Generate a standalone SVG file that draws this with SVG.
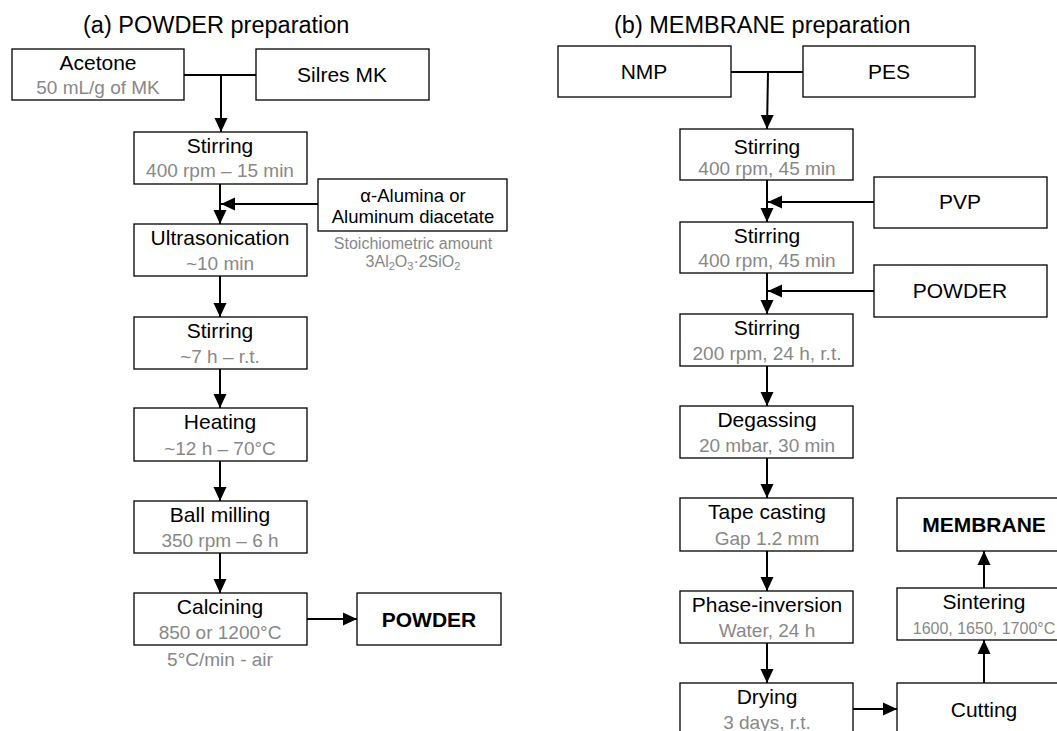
<svg xmlns="http://www.w3.org/2000/svg" width="1057" height="731" viewBox="0 0 1057 731">
<style>
.box{fill:#fff;stroke:#000;stroke-width:1.3}
.t{font-family:"Liberation Sans",Arial,sans-serif;font-size:21px;fill:#000;text-anchor:middle}
.b{font-weight:bold}
.m{font-size:18.5px}
.g{font-family:"Liberation Sans",Arial,sans-serif;font-size:19px;fill:#888;text-anchor:middle}
.s{font-size:16px}
.title{font-family:"Liberation Sans",Arial,sans-serif;font-size:23.5px;fill:#000}
.c{fill:none;stroke:#000;stroke-width:2}
</style>
<defs>
<marker id="ah" markerUnits="userSpaceOnUse" markerWidth="14" markerHeight="14" viewBox="0 0 14 14" refX="14" refY="7" orient="auto">
<path d="M0,0.5 L14,7 L0,13.5 Z" fill="#000"/>
</marker>
</defs>
<rect width="1057" height="731" fill="#fff"/>
<text class="title" x="83" y="33">(a) POWDER preparation</text>
<text class="title" x="614" y="33">(b) MEMBRANE preparation</text>

<g id="connectors">
<path class="c" d="M184,75 H256"/>
<path class="c" d="M221,75 V132" marker-end="url(#ah)"/>
<path class="c" d="M220,184 V224" marker-end="url(#ah)"/>
<path class="c" d="M318,204 H221" marker-end="url(#ah)"/>
<path class="c" d="M220,276 V317" marker-end="url(#ah)"/>
<path class="c" d="M220,369 V408" marker-end="url(#ah)"/>
<path class="c" d="M220,461 V501" marker-end="url(#ah)"/>
<path class="c" d="M220,553 V593" marker-end="url(#ah)"/>
<path class="c" d="M307,619 H357" marker-end="url(#ah)"/>
<path class="c" d="M731,72 H803"/>
<path class="c" d="M768,72 L767,129" marker-end="url(#ah)"/>
<path class="c" d="M767,180 V222" marker-end="url(#ah)"/>
<path class="c" d="M874,202 H768" marker-end="url(#ah)"/>
<path class="c" d="M767,273 V314" marker-end="url(#ah)"/>
<path class="c" d="M874,291 H768" marker-end="url(#ah)"/>
<path class="c" d="M767,366 V406" marker-end="url(#ah)"/>
<path class="c" d="M767,458 V498" marker-end="url(#ah)"/>
<path class="c" d="M767,551 V591" marker-end="url(#ah)"/>
<path class="c" d="M767,643 V683" marker-end="url(#ah)"/>
<path class="c" d="M853,709 H897" marker-end="url(#ah)"/>
<path class="c" d="M984,683 V640" marker-end="url(#ah)"/>
<path class="c" d="M984,588 V551" marker-end="url(#ah)"/>
</g>

<g id="acetone"><rect class="box" x="12" y="49" width="172" height="51"/><text class="t" x="98" y="70">Acetone</text><text class="g" x="98" y="94">50 mL/g of MK</text></g>
<g id="silres"><rect class="box" x="256" y="49" width="173" height="51"/><text class="t" x="342" y="82">Silres MK</text></g>
<g id="stirring-a1"><rect class="box" x="134" y="132" width="173" height="52"/><text class="t" x="220" y="153">Stirring</text><text class="g" x="220" y="177">400 rpm – 15 min</text></g>
<g id="alumina"><rect class="box" x="318" y="179" width="189" height="52"/><text class="t m" x="413" y="202">α-Alumina or</text><text class="t m" x="413" y="223">Aluminum diacetate</text><text class="g s" x="413" y="249">Stoichiometric amount</text><text class="g s" x="413" y="267">3Al<tspan font-size="11" dy="3">2</tspan><tspan dy="-3">O</tspan><tspan font-size="11" dy="3">3</tspan><tspan dy="-3">·2SiO</tspan><tspan font-size="11" dy="3">2</tspan></text></g>
<g id="ultrasonication"><rect class="box" x="134" y="224" width="173" height="52"/><text class="t" x="220" y="245">Ultrasonication</text><text class="g" x="220" y="270">~10 min</text></g>
<g id="stirring-a2"><rect class="box" x="134" y="317" width="173" height="52"/><text class="t" x="220" y="338">Stirring</text><text class="g" x="220" y="363">~7 h – r.t.</text></g>
<g id="heating"><rect class="box" x="134" y="408" width="173" height="53"/><text class="t" x="220" y="429">Heating</text><text class="g" x="220" y="455">~12 h – 70°C</text></g>
<g id="ballmilling"><rect class="box" x="134" y="501" width="173" height="52"/><text class="t" x="220" y="522">Ball milling</text><text class="g" x="220" y="547">350 rpm – 6 h</text></g>
<g id="calcining"><rect class="box" x="134" y="593" width="173" height="52"/><text class="t" x="220" y="614">Calcining</text><text class="g" x="220" y="639">850 or 1200°C</text><text class="g" x="220" y="666">5°C/min - air</text></g>
<g id="powder-out"><rect class="box" x="357" y="593" width="144" height="52"/><text class="t b" x="429" y="627">POWDER</text></g>

<g id="nmp"><rect class="box" x="558" y="46" width="173" height="51"/><text class="t" x="644" y="79">NMP</text></g>
<g id="pes"><rect class="box" x="803" y="46" width="172" height="51"/><text class="t" x="889" y="79">PES</text></g>
<g id="stirring-b1"><rect class="box" x="680" y="129" width="173" height="51"/><text class="t" x="767" y="154">Stirring</text><text class="g" x="767" y="175">400 rpm, 45 min</text></g>
<g id="pvp"><rect class="box" x="874" y="177" width="173" height="51"/><text class="t" x="960" y="209">PVP</text></g>
<g id="stirring-b2"><rect class="box" x="680" y="222" width="173" height="51"/><text class="t" x="767" y="243">Stirring</text><text class="g" x="767" y="267">400 rpm, 45 min</text></g>
<g id="powder-in"><rect class="box" x="874" y="265" width="173" height="52"/><text class="t" x="960" y="298">POWDER</text></g>
<g id="stirring-b3"><rect class="box" x="680" y="314" width="173" height="52"/><text class="t" x="767" y="335">Stirring</text><text class="g" x="767" y="360">200 rpm, 24 h, r.t.</text></g>
<g id="degassing"><rect class="box" x="680" y="406" width="173" height="52"/><text class="t" x="767" y="427">Degassing</text><text class="g" x="767" y="452">20 mbar, 30 min</text></g>
<g id="tapecasting"><rect class="box" x="680" y="498" width="173" height="53"/><text class="t" x="767" y="519">Tape casting</text><text class="g" x="767" y="545">Gap 1.2 mm</text></g>
<g id="phaseinversion"><rect class="box" x="680" y="591" width="173" height="52"/><text class="t" x="767" y="612">Phase-inversion</text><text class="g" x="767" y="637">Water, 24 h</text></g>
<g id="drying"><rect class="box" x="680" y="683" width="173" height="52"/><text class="t" x="767" y="704">Drying</text><text class="g" x="767" y="729">3 days, r.t.</text></g>
<g id="membrane"><rect class="box" x="897" y="498" width="174" height="53"/><text class="t b" x="984" y="532">MEMBRANE</text></g>
<g id="sintering"><rect class="box" x="897" y="588" width="174" height="52"/><text class="t" x="984" y="609">Sintering</text><text class="g s" x="984" y="634">1600, 1650, 1700°C</text></g>
<g id="cutting"><rect class="box" x="897" y="683" width="174" height="52"/><text class="t" x="984" y="717">Cutting</text></g>
</svg>
